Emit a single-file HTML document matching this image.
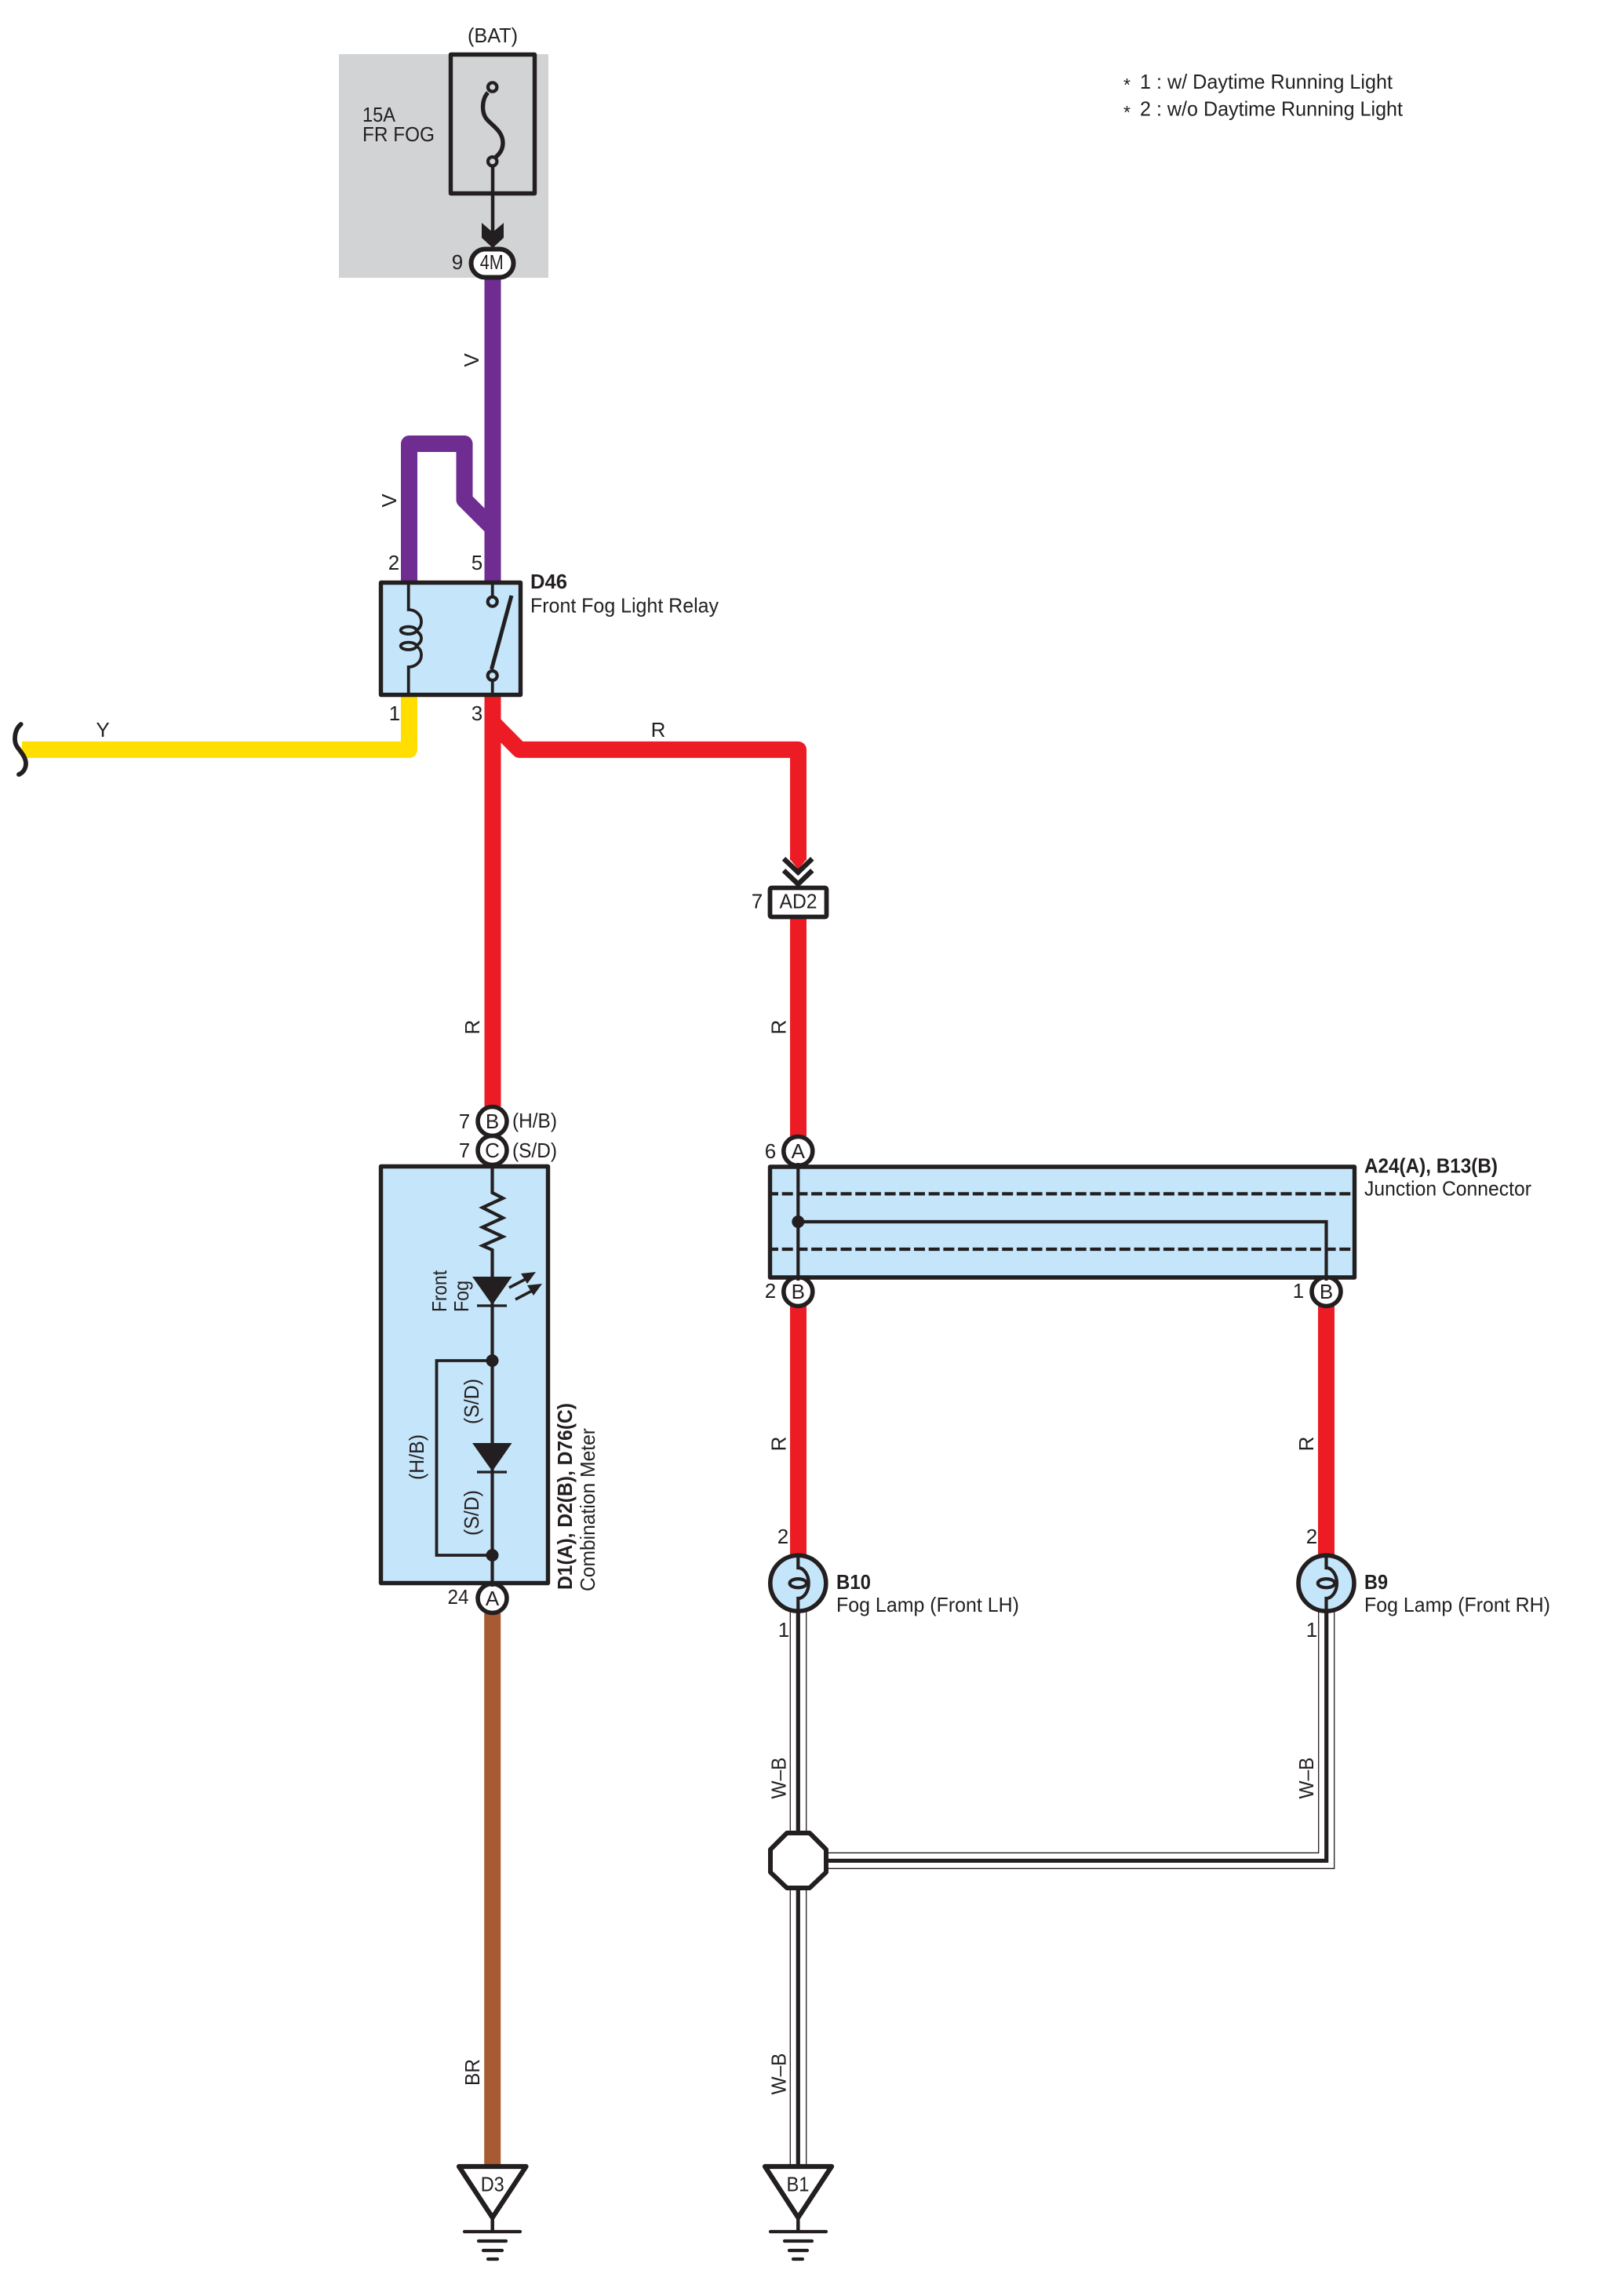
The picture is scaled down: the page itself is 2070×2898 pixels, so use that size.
<!DOCTYPE html>
<html><head><meta charset="utf-8"><style>
html,body{margin:0;padding:0;background:#fff}
svg{display:block}
text{font-family:"Liberation Sans",sans-serif;font-size:26px;fill:#231f20}
.b{font-weight:bold}
.m{text-anchor:middle}
.e{text-anchor:end}
</style></head><body>
<svg width="2070" height="2898" viewBox="0 0 2070 2898" xmlns="http://www.w3.org/2000/svg">
<!-- fuse area -->
<rect x="432" y="69" width="267" height="285" fill="#d1d3d4"/>
<g fill="none" stroke="#231f20" stroke-width="5.4">
<rect x="574.5" y="69.5" width="107" height="177" stroke-linejoin="round"/>
<path d="M622 118C614 126 614 142 619 150C625 159 641 166 641 182C641 190 637 196 632 200" stroke-width="5.4"/>
<path d="M628 212V300" stroke-width="4.5"/>
<circle cx="627.7" cy="111" r="5.7" stroke-width="4.2"/>
<circle cx="627.7" cy="205.7" r="5.7" stroke-width="4.2"/>
</g>
<polygon points="614,284 628,296 642,284 642,303 628,316 614,303" fill="#231f20"/>
<!-- wires -->
<g fill="none" stroke-width="21" stroke-linejoin="round">
<path d="M628 354V742" stroke="#6f2c91"/>
<path d="M521.5 742V565.5H592V637L628 673" stroke="#6f2c91"/>
<path d="M521.5 886V955.4H28" stroke="#ffde00"/>
<path d="M628 886V1410" stroke="#ed1c24"/>
<path d="M628 921L662 955.4H1017.5V1096" stroke="#ed1c24"/>
<path d="M1017.5 1170V1448" stroke="#ed1c24"/>
<path d="M1017.5 1664V1982" stroke="#ed1c24"/>
<path d="M1690.5 1664V1982" stroke="#ed1c24"/>
<path d="M627.7 2056V2760" stroke="#a85a32"/>
</g>
<polygon points="1007,1095 1028,1095 1017.5,1108" fill="#ed1c24"/>
<!-- squiggle -->
<path d="M26.7 923C18 930 17 945 22 952C28 960 33 966 33 973C33 980 29 985 24 987" fill="none" stroke="#231f20" stroke-width="5.8" stroke-linecap="round"/>
<!-- W-B wires -->
<g fill="none" stroke="#231f20">
<path d="M1007.3 2052V2335M1027.7 2052V2335M1007.3 2407V2760M1027.7 2407V2760" stroke-width="1.3"/>
<path d="M1017.3 2052V2335M1017.3 2407V2760" stroke-width="5.2"/>
<path d="M1054 2361.3H1680.7V2052" stroke-width="1.3"/>
<path d="M1054 2381.3H1700.7V2052" stroke-width="1.3"/>
<path d="M1054 2371.3H1690.7V2052" stroke-width="5.2"/>
</g>
<!-- 4M connector -->
<rect x="600.5" y="317.5" width="54" height="36" rx="18" ry="18" fill="#fff" stroke="#231f20" stroke-width="6"/>
<!-- relay -->
<rect x="485.5" y="742.5" width="178" height="143" fill="#c5e6fa" stroke="#231f20" stroke-width="5.4" stroke-linejoin="round"/>
<g fill="none" stroke="#231f20" stroke-width="3.8">
<path d="M520.7 745V777C530 777 537 784 537 792C537 798 534 802 530 803.5M530 804C534 806 537 809 537 813.5C537 818 534 821 530 823M530 823.5C534 825 537 829 537 835C537 843 530 850 520.7 850V884"/>
<ellipse cx="520.7" cy="803.3" rx="10" ry="4.7"/>
<ellipse cx="520.7" cy="823.3" rx="10" ry="4.7"/>
<path d="M627.7 745V761M627.7 867V884"/>
<path d="M626.5 853L652 759" stroke-width="5"/>
<circle cx="627.7" cy="766.7" r="6" fill="#c5e6fa" stroke-width="4.2"/>
<circle cx="627.7" cy="861" r="6" fill="#c5e6fa" stroke-width="4.2"/>
</g>
<!-- combination meter -->
<rect x="485.5" y="1486.5" width="213" height="531" fill="#c5e6fa" stroke="#231f20" stroke-width="5.4" stroke-linejoin="round"/>
<g fill="none" stroke="#231f20" stroke-width="4.2">
<path d="M627.5 1488V1520L641 1527L615 1539L641 1552L615 1564L641 1576L615 1587.5L627.5 1593V2016"/>
<path d="M627.5 1734H556.5V1982H627.5" stroke-width="3.8"/>
<path d="M608 1664H646M608 1876H646" stroke-width="3.2"/>
<path d="M649 1641L672 1629M657 1656L680 1644" stroke-width="3.6"/>
</g>
<g fill="#231f20">
<polygon points="602,1627 652.5,1627 627.5,1663"/>
<polygon points="602,1839 652.5,1839 627.5,1875"/>
<polygon points="683,1621 664,1623 672,1636"/>
<polygon points="691,1636 672,1638 680,1651"/>
<circle cx="627.5" cy="1734" r="8"/>
<circle cx="627.5" cy="1982" r="8"/>
</g>
<!-- meter connectors -->
<g fill="#fff" stroke="#231f20" stroke-width="5.6">
<circle cx="627.5" cy="1429" r="18.5"/>
<circle cx="627.5" cy="1466" r="18.5"/>
<circle cx="627.5" cy="2037" r="18.5"/>
<circle cx="1017.3" cy="1467" r="18.5"/>
<circle cx="1017.3" cy="1646" r="18.5"/>
<circle cx="1690.5" cy="1646" r="18.5"/>
</g>
<path d="M627.5 1484V1490M627.5 2016V2022" stroke="#231f20" stroke-width="4"/>
<!-- junction connector -->
<rect x="981.5" y="1487" width="745" height="141" fill="#c5e6fa" stroke="#231f20" stroke-width="5.4" stroke-linejoin="round"/>
<g fill="none" stroke="#231f20" stroke-width="4.2">
<path d="M984 1521.4H1725M984 1592H1725" stroke-dasharray="14 4.7" stroke-dashoffset="6"/>
<path d="M1017.3 1487V1628"/>
<path d="M1017.3 1557H1690.5V1628"/>
</g>
<circle cx="1017.3" cy="1557" r="8" fill="#231f20"/>
<path d="M1017.3 1482V1490M1017.3 1626V1632M1690.5 1626V1632" stroke="#231f20" stroke-width="4"/>
<!-- AD2 -->
<polyline points="999,1094.3 1017.3,1111.7 1035.3,1094.3" fill="none" stroke="#231f20" stroke-width="6.4"/>
<polyline points="999,1109.3 1017.3,1126.7 1035.3,1109.3" fill="none" stroke="#231f20" stroke-width="6.4"/>
<rect x="981.5" y="1131.5" width="72" height="37" rx="2" fill="#fff" stroke="#231f20" stroke-width="5.8"/>
<!-- lamps -->
<g fill="#c5e6fa" stroke="#231f20" stroke-width="5.6">
<circle cx="1017.3" cy="2017.7" r="35.5"/>
<circle cx="1690.5" cy="2017.7" r="35.5"/>
</g>
<g fill="none" stroke="#231f20" stroke-width="4.2">
<path d="M1017.3 1982V1998C1024 1998 1030.7 2006 1030.7 2017.7C1030.7 2029 1024 2037 1017.3 2037V2054"/>
<ellipse cx="1017.3" cy="2017.7" rx="10.7" ry="5.6"/>
<path d="M1690.5 1982V1998C1697 1998 1704 2006 1704 2017.7C1704 2029 1697 2037 1690.5 2037V2054"/>
<ellipse cx="1690.5" cy="2017.7" rx="10.7" ry="5.6"/>
</g>
<!-- splice -->
<polygon points="1003,2336 1032,2336 1053,2357 1053,2386 1032,2406 1003,2406 982,2386 982,2357" fill="#fff" stroke="#231f20" stroke-width="6" stroke-linejoin="round"/>
<!-- grounds -->
<g fill="none" stroke="#231f20" stroke-linecap="round">
<polygon points="585,2761 670.5,2761 627.7,2826" fill="#fff" stroke-width="6.2" stroke-linejoin="round"/>
<polygon points="975,2761 1060,2761 1017.3,2826" fill="#fff" stroke-width="6.2" stroke-linejoin="round"/>
<path d="M627.7 2826V2844M1017.3 2826V2844" stroke-width="4.5" stroke-linecap="butt"/>
<path d="M592 2844H663M610 2856H645M616 2868H640M622 2879H634" stroke-width="4.2"/>
<path d="M982 2844H1053M1000 2856H1035M1006 2868H1029M1011 2879H1023" stroke-width="4.2"/>
</g>
<!-- labels: top -->
<text x="628" y="54" class="m" textLength="64" lengthAdjust="spacingAndGlyphs">(BAT)</text>
<text x="462" y="155" textLength="42" lengthAdjust="spacingAndGlyphs">15A</text>
<text x="462" y="180" textLength="92" lengthAdjust="spacingAndGlyphs">FR FOG</text>
<text x="583" y="343" class="m">9</text>
<text x="626.7" y="343" class="m" textLength="30" lengthAdjust="spacingAndGlyphs">4M</text>
<text x="1432" y="116" style="font-size:23px">*</text>
<text x="1432" y="151" style="font-size:23px">*</text>
<text x="1453" y="113" textLength="322" lengthAdjust="spacingAndGlyphs">1 : w/ Daytime Running Light</text>
<text x="1453" y="147.7" textLength="335" lengthAdjust="spacingAndGlyphs">2 : w/o Daytime Running Light</text>
<!-- relay labels -->
<text x="502" y="726" class="m">2</text>
<text x="608" y="726" class="m">5</text>
<text x="503" y="918" class="m">1</text>
<text x="608" y="918" class="m">3</text>
<text x="676" y="750" class="b" textLength="47" lengthAdjust="spacingAndGlyphs">D46</text>
<text x="676" y="780.7" textLength="240" lengthAdjust="spacingAndGlyphs">Front Fog Light Relay</text>
<text x="131" y="939" class="m">Y</text>
<text x="839" y="939" class="m">R</text>
<!-- rotated wire labels -->
<g class="m">
<text class="m" transform="translate(610,459) rotate(-90)">V</text>
<text class="m" transform="translate(505,638) rotate(-90)">V</text>
<text class="m" transform="translate(611,1309) rotate(-90)">R</text>
<text class="m" transform="translate(1001.5,1309) rotate(-90)">R</text>
<text class="m" transform="translate(1001.5,1840) rotate(-90)">R</text>
<text class="m" transform="translate(1674,1840) rotate(-90)">R</text>
<text class="m" transform="translate(611,2641) rotate(-90)" textLength="34" lengthAdjust="spacingAndGlyphs">BR</text>
<text class="m" transform="translate(1001.5,2266) rotate(-90)" textLength="53" lengthAdjust="spacingAndGlyphs">W–B</text>
<text class="m" transform="translate(1674,2266) rotate(-90)" textLength="53" lengthAdjust="spacingAndGlyphs">W–B</text>
<text class="m" transform="translate(1001.5,2643) rotate(-90)" textLength="53" lengthAdjust="spacingAndGlyphs">W–B</text>
</g>
<!-- connector text -->
<text x="627.5" y="1438" class="m">B</text>
<text x="627.5" y="1475" class="m">C</text>
<text x="627.5" y="2046" class="m">A</text>
<text x="592" y="1438" class="m">7</text>
<text x="592" y="1475" class="m">7</text>
<text x="584" y="2044" class="m" textLength="27" lengthAdjust="spacingAndGlyphs">24</text>
<text x="653" y="1437" textLength="57" lengthAdjust="spacingAndGlyphs">(H/B)</text>
<text x="653" y="1475" textLength="57" lengthAdjust="spacingAndGlyphs">(S/D)</text>
<text x="1017.3" y="1476" class="m">A</text>
<text x="1017.3" y="1655" class="m">B</text>
<text x="1690.5" y="1655" class="m">B</text>
<text x="982" y="1476" class="m">6</text>
<text x="982" y="1654" class="m">2</text>
<text x="1655" y="1654" class="m">1</text>
<text x="998" y="1967" class="m">2</text>
<text x="1672" y="1967" class="m">2</text>
<text x="999" y="2086" class="m">1</text>
<text x="1672" y="2086" class="m">1</text>
<text x="965" y="1157.5" class="m">7</text>
<text x="1017.5" y="1157.3" class="m" textLength="48" lengthAdjust="spacingAndGlyphs">AD2</text>
<text x="627.7" y="2792.6" class="m" textLength="30" lengthAdjust="spacingAndGlyphs">D3</text>
<text x="1017" y="2792.6" class="m" textLength="29" lengthAdjust="spacingAndGlyphs">B1</text>
<!-- meter internals -->
<text transform="translate(569,1672) rotate(-90)" textLength="53" lengthAdjust="spacingAndGlyphs">Front</text>
<text transform="translate(597,1672) rotate(-90)" textLength="40" lengthAdjust="spacingAndGlyphs">Fog</text>
<text transform="translate(610,1815) rotate(-90)" textLength="58" lengthAdjust="spacingAndGlyphs">(S/D)</text>
<text transform="translate(610,1957) rotate(-90)" textLength="58" lengthAdjust="spacingAndGlyphs">(S/D)</text>
<text transform="translate(540,1886) rotate(-90)" textLength="58" lengthAdjust="spacingAndGlyphs">(H/B)</text>
<text class="b" transform="translate(729,2026) rotate(-90)" textLength="238" lengthAdjust="spacingAndGlyphs">D1(A), D2(B), D76(C)</text>
<text transform="translate(758,2028) rotate(-90)" textLength="208" lengthAdjust="spacingAndGlyphs">Combination Meter</text>
<!-- component names -->
<text x="1739" y="1494.6" class="b" textLength="170" lengthAdjust="spacingAndGlyphs">A24(A), B13(B)</text>
<text x="1739" y="1523.6" textLength="213" lengthAdjust="spacingAndGlyphs">Junction Connector</text>
<text x="1066" y="2025" class="b" textLength="44" lengthAdjust="spacingAndGlyphs">B10</text>
<text x="1066" y="2054" textLength="233" lengthAdjust="spacingAndGlyphs">Fog Lamp (Front LH)</text>
<text x="1739" y="2025" class="b" textLength="30" lengthAdjust="spacingAndGlyphs">B9</text>
<text x="1739" y="2054" textLength="237" lengthAdjust="spacingAndGlyphs">Fog Lamp (Front RH)</text>
</svg>
</body></html>
